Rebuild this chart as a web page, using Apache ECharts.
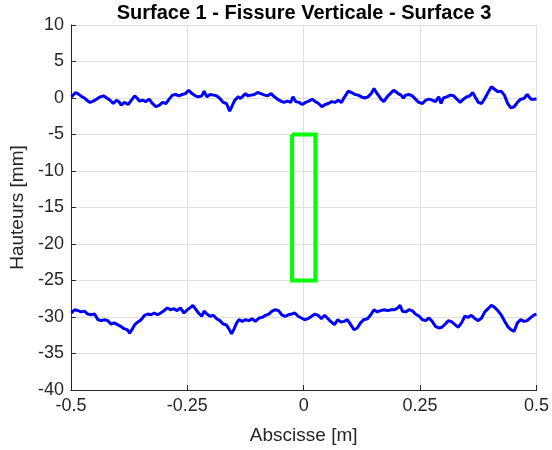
<!DOCTYPE html>
<html>
<head>
<meta charset="utf-8">
<script src="https://cdn.jsdelivr.net/npm/echarts@6/dist/echarts.min.js"></script>
<style>html,body{margin:0;padding:0;background:#fff;}#c{width:552px;height:450px;}</style>
</head>
<body>
<div id="c"></div>
<script>
// Upper profile (Surface 1): x [m], height [mm]
const topX = [-0.499,-0.490,-0.483,-0.476,-0.471,-0.466,-0.459,-0.452,-0.445,-0.437,-0.430,-0.423,-0.416,-0.409,-0.402,-0.397,-0.392,-0.385,-0.377,-0.370,-0.363,-0.358,-0.353,-0.346,-0.339,-0.332,-0.325,-0.317,-0.310,-0.303,-0.296,-0.289,-0.282,-0.275,-0.268,-0.261,-0.254,-0.247,-0.240,-0.233,-0.226,-0.219,-0.214,-0.208,-0.201,-0.194,-0.187,-0.180,-0.173,
-0.166,-0.159,-0.153,-0.148,-0.141,-0.136,-0.130,-0.125,-0.120,-0.113,-0.106,-0.099,-0.092,-0.084,-0.077,-0.070,-0.063,-0.056,-0.049,-0.042,-0.035,-0.028,-0.023,-0.017,-0.010,-0.003,0.004,0.011,0.018,0.025,0.032,0.039,0.046,0.053,0.060,0.067,0.074,0.081,0.088,0.096,0.103,0.110,0.117,0.124,0.131,0.138,0.145,0.151,0.156,0.163,
0.166,0.172,0.179,0.186,0.193,0.198,0.203,0.209,0.214,0.219,0.226,0.233,0.240,0.247,0.255,0.262,0.269,0.276,0.283,0.290,0.295,0.300,0.307,0.315,0.322,0.329,0.336,0.343,0.350,0.357,0.363,0.368,0.375,0.382,0.389,0.396,0.403,0.410,0.417,0.424,0.431,0.438,0.445,0.452,0.459,0.466,0.473,0.480,0.488,0.495,0.500];
const topY = [0.16,0.75,0.5,0.16,0,-0.3,-0.6,-0.43,-0.16,0.16,0.3,0,-0.3,-0.75,-0.3,-0.5,-0.98,-0.6,-0.89,-0.3,0.3,0,-0.43,-0.3,-0.5,-0.16,-0.75,-1.2,-0.98,-0.6,-0.75,-0.16,0.39,0.48,0.3,0.48,0.6,1.07,0.6,0.3,0.16,0.3,0.94,0.16,0.48,0.39,0.3,-0.07,-0.6,
-0.75,-1.8,-0.98,-0.3,0.16,-0.07,0.3,0.6,0.3,0.39,0.48,0.75,0.6,0.39,0.3,0.6,0.16,-0.16,-0.43,-0.6,-0.43,-0.6,0.16,-0.5,-0.6,-0.89,-0.6,-0.43,-0.16,-0.5,-0.75,-1.2,-0.89,-0.75,-0.5,-0.6,-0.3,-0.6,0.16,0.94,0.75,0.48,0.39,0.16,0,0.16,0.6,1.3,0.75,0.16,
-0.16,-0.5,0.16,0.6,1.07,0.85,0.6,0.39,0,0.39,0.48,0.3,-0.16,-0.6,-0.75,-0.3,-0.16,-0.3,-0.5,0.16,-0.75,0,0.16,0.39,0.3,-0.16,-0.6,-0.16,0.16,0.3,0.75,0.16,-0.6,-0.75,-0.07,0.75,1.53,1.2,0.85,0.94,0.39,-0.75,-1.35,-1.2,-0.6,-0.16,-0.07,0.48,-0.16,-0.16,-0.1];

// Lower profile (Surface 3)
const botX = [-0.499,-0.492,-0.485,-0.478,-0.471,-0.464,-0.457,-0.449,-0.442,-0.435,-0.428,-0.421,-0.414,-0.407,-0.400,-0.393,-0.386,-0.379,-0.374,-0.369,-0.363,-0.356,-0.349,-0.342,-0.335,-0.328,-0.321,-0.314,-0.307,-0.300,-0.293,-0.286,-0.279,-0.272,-0.265,-0.257,-0.250,-0.243,-0.238,-0.233,-0.226,-0.219,-0.214,-0.208,-0.201,-0.194,-0.187,-0.180,-0.173,
-0.166,-0.160,-0.155,-0.150,-0.144,-0.139,-0.132,-0.125,-0.118,-0.111,-0.104,-0.096,-0.089,-0.082,-0.075,-0.068,-0.061,-0.054,-0.047,-0.040,-0.033,-0.026,-0.019,-0.012,-0.005,0.002,0.009,0.017,0.024,0.031,0.038,0.045,0.052,0.059,0.066,0.073,0.080,0.087,0.094,0.101,0.108,0.115,0.122,0.129,0.137,0.144,0.151,0.158,0.165,
0.173,0.180,0.188,0.195,0.202,0.207,0.212,0.219,0.226,0.233,0.240,0.248,0.255,0.262,0.269,0.276,0.283,0.290,0.297,0.304,0.311,0.318,0.325,0.332,0.339,0.346,0.353,0.360,0.368,0.375,0.382,0.389,0.396,0.403,0.410,0.417,0.424,0.431,0.438,0.445,0.452,0.459,0.466,0.473,0.480,0.488,0.495,0.500];
const botY = [-29.45,-29.0,-29.13,-29.3,-29.2,-29.6,-29.7,-29.6,-30.37,-30.5,-30.37,-30.5,-30.96,-30.8,-31.05,-31.28,-31.6,-31.74,-32.2,-31.74,-31.05,-30.68,-30.37,-29.77,-29.6,-29.7,-29.45,-29.7,-29.45,-29.13,-28.77,-29.0,-28.86,-29.13,-28.77,-29.45,-29.0,-28.68,-28.4,-28.86,-29.45,-29.9,-29.2,-29.6,-29.9,-29.77,-30.23,-30.5,-30.96,
-31.1,-31.7,-32.3,-31.7,-30.8,-30.37,-30.6,-30.37,-30.5,-30.23,-30.6,-30.14,-30.05,-29.77,-29.6,-29.2,-29.0,-29.13,-29.7,-29.9,-29.7,-29.6,-29.45,-29.9,-30.14,-30.37,-30.23,-29.9,-29.6,-29.77,-30.23,-29.77,-30.23,-30.68,-31.05,-30.37,-30.68,-30.6,-30.37,-31.05,-31.74,-31.5,-30.8,-30.37,-30.23,-29.7,-29.0,-29.3,-29.13,
-29.0,-29.13,-29.0,-29.0,-28.77,-28.4,-29.22,-29.3,-29.0,-29.13,-29.6,-29.9,-30.37,-30.5,-30.14,-30.6,-31.28,-31.5,-31.4,-30.96,-30.5,-30.68,-31.05,-31.4,-30.8,-29.9,-30.05,-29.77,-30.23,-30.5,-30.14,-29.3,-28.86,-28.4,-28.68,-29.13,-29.7,-30.5,-31.28,-31.74,-31.96,-30.8,-30.37,-30.6,-30.5,-30.05,-29.7,-29.6];

// Vertical crack outline (rectangle)
const crackX = [-0.025, 0.025, 0.025, -0.025, -0.025];
const crackY = [-5, -5, -25, -25, -5];

const xTicks = [-0.5, -0.25, 0, 0.25, 0.5];
const yTicks = [10, 5, 0, -5, -10, -15, -20, -25, -30, -35, -40];

const zip = (a, b) => a.map((v, i) => [v, b[i]]);
const axisCol = '#262626';
const gridCol = '#dfdfdf';
const font = 'Liberation Sans, Arial, Helvetica, sans-serif';

const chart = echarts.init(document.getElementById('c'), null, {renderer: 'canvas'});
chart.setOption({
  animation: false,
  backgroundColor: '#ffffff',
  title: {
    text: 'Surface 1 - Fissure Verticale - Surface 3',
    left: 299, top: -2, textAlign: 'center',
    textStyle: {fontFamily: font, fontSize: 20, fontWeight: 'bold', color: '#000'}
  },
  grid: {left: 67, right: 14, top: 25, bottom: 60, containLabel: false},
  xAxis: {
    type: 'value', min: xTicks[0], max: xTicks[xTicks.length - 1], interval: 0.25,
    name: 'Abscisse [m]', nameLocation: 'middle', nameGap: 36,
    nameTextStyle: {fontFamily: font, fontSize: 19, color: axisCol},
    axisLine: {show: true, onZero: false, lineStyle: {color: axisCol, width: 1}},
    axisTick: {show: true, inside: true, length: 5, lineStyle: {color: axisCol}},
    axisLabel: {fontFamily: font, fontSize: 18, color: axisCol, margin: 7},
    splitLine: {show: true, lineStyle: {color: gridCol, width: 1}}
  },
  yAxis: {
    type: 'value', min: yTicks[yTicks.length - 1], max: yTicks[0], interval: 5,
    name: 'Hauteurs [mm]', nameLocation: 'middle', nameGap: 38,
    nameTextStyle: {fontFamily: font, fontSize: 19, color: axisCol},
    axisLine: {show: true, onZero: false, lineStyle: {color: axisCol, width: 1}},
    axisTick: {show: true, inside: true, length: 5, lineStyle: {color: axisCol}},
    axisLabel: {fontFamily: font, fontSize: 18, color: axisCol, margin: 7},
    splitLine: {show: true, lineStyle: {color: gridCol, width: 1}}
  },
  series: [
    {type: 'line', data: zip(topX, topY), showSymbol: false, symbol: 'none',
     lineStyle: {color: '#0000ff', width: 3}, z: 3},
    {type: 'line', data: zip(botX, botY), showSymbol: false, symbol: 'none',
     lineStyle: {color: '#0000ff', width: 3}, z: 3},
    {type: 'line', data: zip(crackX, crackY), showSymbol: false, symbol: 'none',
     lineStyle: {color: '#00ff00', width: 4, join: 'miter'}, z: 4}
  ]
});
</script>
</body>
</html>
